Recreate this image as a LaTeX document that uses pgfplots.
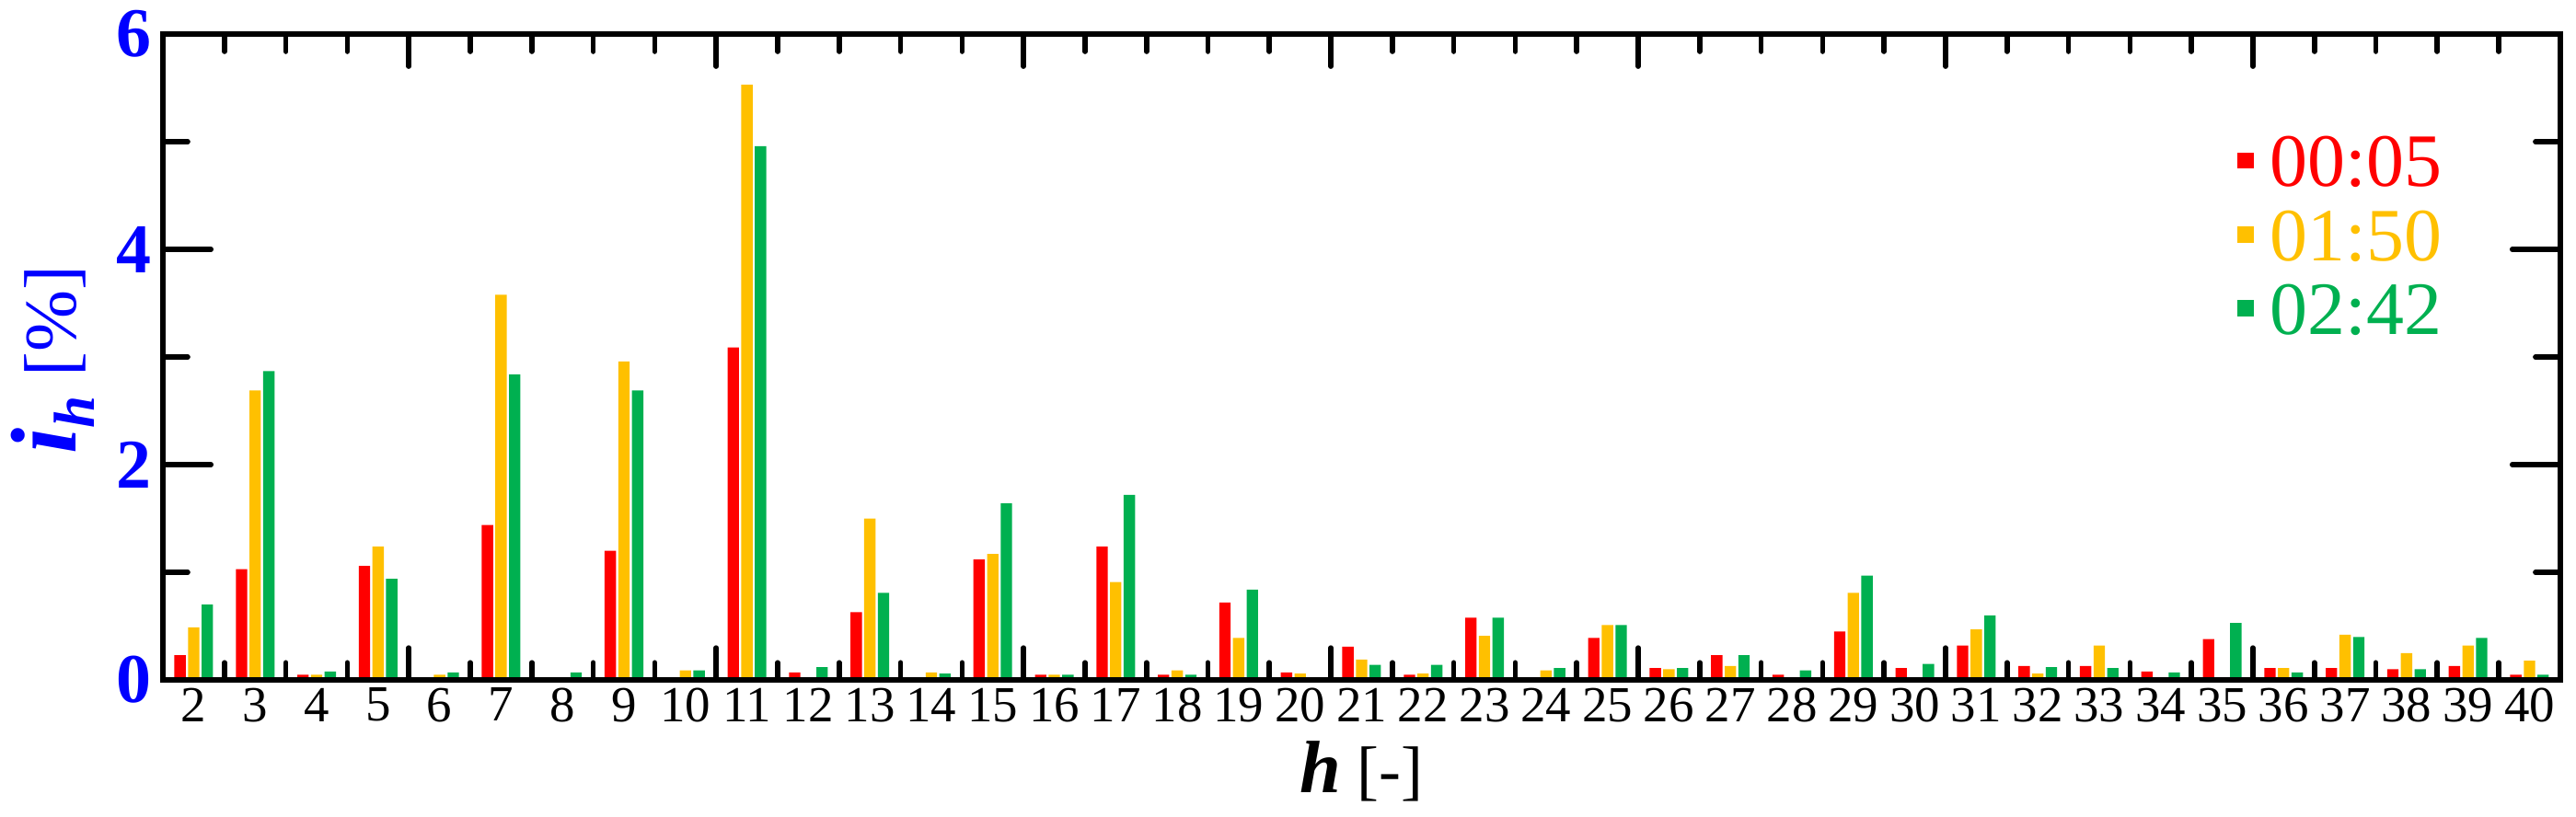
\documentclass[border=0pt]{standalone}
\usepackage{fontspec}
\setmainfont{Liberation Serif}
\usepackage{xcolor}
\usepackage{pgfplots}
\usepackage{pgfplotstable}
\pgfplotsset{compat=1.18}
\definecolor{cred}{HTML}{FF0000}
\definecolor{cyel}{HTML}{FFC000}
\definecolor{cgreen}{HTML}{00B050}
\definecolor{cblue}{HTML}{0000FF}

% harmonic currents i_h [%] at three times
\pgfplotstableread{
h   a     b     c
2   0.23  0.49  0.70
3   1.03  2.69  2.87
4   0.05  0.05  0.08
5   1.06  1.24  0.94
6   0     0.05  0.07
7   1.44  3.58  2.84
8   0     0     0.07
9   1.20  2.96  2.69
10  0     0.09  0.09
11  3.09  5.53  4.96
12  0.07  0     0.12
13  0.63  1.50  0.81
14  0     0.07  0.06
15  1.12  1.17  1.64
16  0.05  0.05  0.05
17  1.24  0.91  1.72
18  0.05  0.09  0.05
19  0.72  0.39  0.84
20  0.07  0.06  0
21  0.31  0.19  0.14
22  0.05  0.06  0.14
23  0.58  0.41  0.58
24  0     0.09  0.11
25  0.39  0.51  0.51
26  0.11  0.10  0.11
27  0.23  0.13  0.23
28  0.05  0     0.09
29  0.45  0.81  0.97
30  0.11  0     0.15
31  0.32  0.47  0.60
32  0.13  0.06  0.12
33  0.13  0.32  0.11
34  0.08  0     0.07
35  0.38  0     0.53
36  0.11  0.11  0.07
37  0.11  0.42  0.40
38  0.10  0.25  0.10
39  0.13  0.32  0.39
40  0.05  0.18  0.05
}\harm

\pgfplotsset{
  frame/.style={
    scale only axis, width=744.3pt, height=200.6pt,
    at={(0,0)}, anchor=south west,
    xmin=1.5, xmax=40.5, ymin=0, ymax=6,
    tick align=inside,
    axis line style={line width=1.9pt, line join=miter},
    tick style={line width=1.6pt, black, line cap=round},
    /pgf/number format/assume math mode=true,
  },
  sq/.style={legend image code/.code={\fill[##1] (0pt,-2.3pt) rectangle (5.1pt,2.8pt);}},
}

\begin{document}
\begin{tikzpicture}
\path[use as bounding box] (-50.6pt,-42.3pt) rectangle (749.2pt,211.2pt);
\begin{axis}[frame,
  axis on top,
  xtick={2,...,40},
  xtick style={draw=none},
  xticklabel style={font=\fontsize{15.7}{16}\selectfont, yshift=1pt},
  ytick={0,2,4,6},
  minor ytick={1,3,5},
  major tick length=14.9pt,
  minor tick length=7.7pt,
  yticklabel style={font=\fontsize{21.7}{22}\selectfont\bfseries, text=cblue},
  xlabel={{\fontsize{23}{24}\selectfont\bfseries\itshape h}\hspace{5pt}{\fontsize{20.5}{21}\selectfont[-]}},
  xlabel style={at={(axis description cs:0.5,-0.141)}, anchor=center},
  ylabel={{\fontsize{29}{30}\selectfont\bfseries\itshape i}{\fontsize{18}{19}\selectfont\raisebox{-5.7pt}{\bfseries\itshape h}}\hspace{6pt}{\fontsize{23}{24}\selectfont[\%]}},
  ylabel style={at={(axis description cs:-0.046,0.496)}, anchor=center, text=cblue},
  legend style={at={(axis description cs:0.865,0.8435)}, anchor=north west,
    draw=none, fill=none, inner sep=0pt, row sep=7.1pt,
    font=\fontsize{23.4}{24}\selectfont,
    nodes={inner sep=0pt, text height=15.8pt, text depth=0pt},
    /tikz/every even column/.append style={column sep=0pt},
    /tikz/every odd column/.append style={column sep=5.1pt}},
  legend cell align=left,
]
\addplot[ybar, bar width=0.185, bar shift=-0.222, fill=cred, draw=none, sq] table[x=h, y=a] {\harm};
\addlegendentry{\textcolor{cred}{00:05}}
\addplot[ybar, bar width=0.185, bar shift=0, fill=cyel, draw=none, sq] table[x=h, y=b] {\harm};
\addlegendentry{\textcolor{cyel}{01:50}}
\addplot[ybar, bar width=0.185, bar shift=0.222, fill=cgreen, draw=none, sq] table[x=h, y=c] {\harm};
\addlegendentry{\textcolor{cgreen}{02:42}}
\end{axis}
\begin{axis}[frame,
  xtick={5.5,10.5,...,35.5},
  minor xtick={2.5,3.5,...,39.5},
  xticklabels={},
  ytick=\empty,
  major tick length=10pt,
  minor tick length=5.4pt,
]
\end{axis}
\end{tikzpicture}
\end{document}
